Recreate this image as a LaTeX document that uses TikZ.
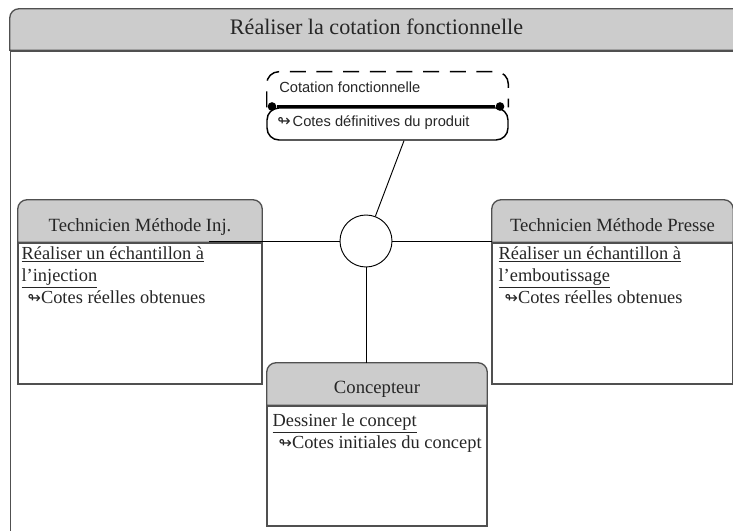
\documentclass[tikz,border=0pt]{standalone}
\usepackage{fontspec}
\setmainfont{Liberation Serif}
\newfontfamily\rolefont{Liberation Sans}
\newfontfamily\iconfont{DejaVu Sans}
\usetikzlibrary{positioning,backgrounds}
\definecolor{headgray}{HTML}{CCCCCC}
\definecolor{linegray}{HTML}{505050}
\newcommand{\cotemark}{{\iconfont\fontsize{12}{12}\selectfont ↬}}
\tikzset{
    headtext/.style={inner sep=0pt,text height=24pt,text depth=7.5pt,font=\fontsize{14}{16}\selectfont,text=black!85},
    bodybox/.style={draw=linegray,line width=1pt,fill=white,inner sep=0pt,minimum height=105.75pt},
    bodytext/.style={inner sep=0pt,align=left,text=black!85,font=\fontsize{13.8}{16.4}\selectfont},
    headline/.style={draw=linegray,line width=1pt,fill=headgray},
    linkline/.style={draw=black,line width=0.7pt},
}
\begin{document}
\begin{tikzpicture}[x=0.75pt,y=-0.75pt]
    \useasboundingbox (0,0) rectangle (733,531);
    \clip (0,0) rectangle (733,531);

    % outer frame
    \node[headtext,minimum width=549.75pt,text height=19.5pt,text depth=11.25pt,font=\fontsize{16.6}{18}\selectfont] (maint) at (376.5,29.5) {Réaliser la cotation fonctionnelle};
    \node[draw=linegray,line width=1pt,inner sep=0pt,minimum width=549.75pt,minimum height=400pt,anchor=north west] (mainb) at (maint.south west) {};

    % boxes
    \node[headtext,minimum width=183pt] (injt) at (140,221) {Technicien Méthode Inj.};
    \node[bodybox,minimum width=183pt,anchor=north] (injb) at (injt.south) {};
    \node[bodytext,below right=3pt and 3pt of injb.north west,anchor=north west] (injx) {\underline{Réaliser un échantillon à}\\\underline{l’injection}\\\hspace{4.5pt}\cotemark Cotes réelles obtenues};

    \node[headtext,minimum width=180.75pt] (prest) at (612.5,221) {Technicien Méthode Presse};
    \node[bodybox,minimum width=180.75pt,anchor=north] (presb) at (prest.south) {};
    \node[bodytext,below right=3pt and 5.25pt of presb.north west,anchor=north west] (presx) {\underline{Réaliser un échantillon à}\\\underline{l’emboutissage}\\\hspace{4.5pt}\cotemark Cotes réelles obtenues};

    \node[headtext,minimum width=165pt,text height=22.5pt,text depth=9pt] (conct) at (377,384) {Concepteur};
    \node[bodybox,minimum width=165pt,minimum height=90pt,anchor=north] (concb) at (conct.south) {};
    \node[bodytext,below right=6pt and 4.5pt of concb.north west,anchor=north west] (concx) {\underline{Dessiner le concept}\\\hspace{4.5pt}\cotemark Cotes initiales du concept};

    % role
    \node[inner sep=0pt,minimum width=180.75pt,minimum height=26.25pt] (rolet) at (387.5,89.5) {};
    \node[inner sep=0pt,anchor=west,text=black!85,font=\rolefont\fontsize{11}{13}\selectfont] (rolex) at (279,87) {Cotation fonctionnelle};
    \node[draw=black,line width=1.1pt,inner sep=0pt,minimum width=180.75pt,minimum height=24pt,rounded corners=9pt,anchor=north] (roleb) at (rolet.south) {};
    \node[inner sep=0pt,anchor=west,text=black!85,font=\rolefont\fontsize{11}{13}\selectfont] (roley) at (277,123) {\cotemark\hspace{1.5pt}Cotes définitives du produit};
    \node[circle,fill=black,inner sep=0pt,minimum size=6.5pt] (dota) at (272,106.5) {};
    \node[circle,fill=black,inner sep=0pt,minimum size=6.5pt] (dotb) at (500,106.5) {};
    \draw[line width=1.1pt,dash pattern=on 12pt off 8pt,rounded corners=9pt] (rolet.south west) -- (rolet.north west) -- (rolet.north east) -- (rolet.south east);
    \path (dota) edge[line width=1.6pt] (dotb);

    % junction
    \node[shape=circle,draw=black,line width=0.7pt,fill=white,inner sep=0pt,minimum size=39pt] (hub) at (366,241) {};
    \coordinate (injend) at (209,241);
    \path[linkline] (injend) edge (hub);
    \path[linkline] (hub) edge (hub.east -| prest.south west);
    \path[linkline] (hub) edge (conct.north -| hub);
    \path[linkline] (hub) edge (roleb.south -| 404,0);

    % head shapes
    \begin{scope}[on background layer]
        \path[headline] (maint.south west) [rounded corners=7pt] -- (maint.north west) [sharp corners] -- (maint.north east) -- (maint.south east) -- cycle;
        \path[headline] (injt.south west) [rounded corners=7pt] -- (injt.north west) -- (injt.north east) [sharp corners] -- (injt.south east) -- cycle;
        \path[headline] (prest.south west) [rounded corners=7pt] -- (prest.north west) -- (prest.north east) [sharp corners] -- (prest.south east) -- cycle;
        \path[headline] (conct.south west) [rounded corners=7pt] -- (conct.north west) -- (conct.north east) [sharp corners] -- (conct.south east) -- cycle;
    \end{scope}
\end{tikzpicture}
\end{document}
